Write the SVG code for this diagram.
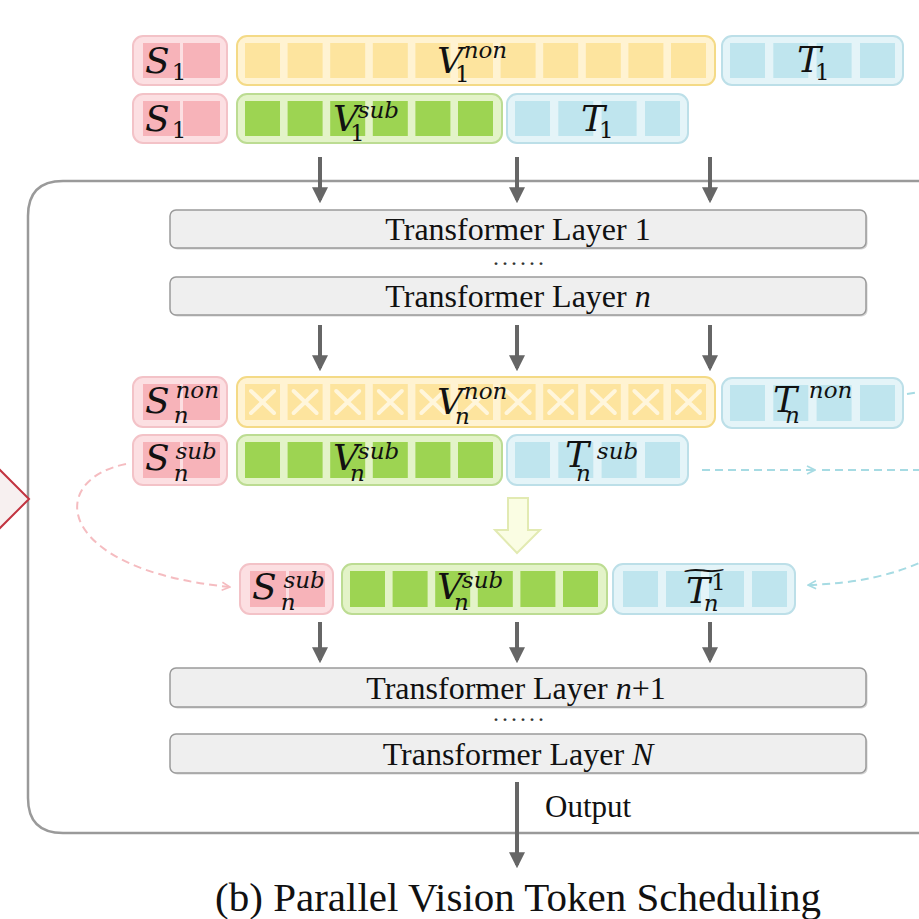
<svg xmlns="http://www.w3.org/2000/svg" width="919" height="919" viewBox="0 0 919 919">
<style>
.bg{fill:#fff}
.pink{fill:#fcdfe2;stroke:#f3c2c7;stroke-width:2}
.pc{fill:#f7b3b9}
.yel{fill:#fff3d2;stroke:#f4da86;stroke-width:2}
.yc{fill:#fde49e}
.grn{fill:#e3f3c8;stroke:#bcdc92;stroke-width:2}
.gc{fill:#9dd452}
.cyn{fill:#e4f4f8;stroke:#bcdfe8;stroke-width:2}
.cc{fill:#bfe5ee}
.x{stroke:#fff6dc;stroke-width:4;stroke-linecap:round}
.m{font-family:"DejaVu Serif","Liberation Serif",serif;font-style:italic;font-size:36px;fill:#111}
.ms{font-family:"DejaVu Serif","Liberation Serif",serif;font-style:italic;font-size:23px}
.md{font-family:"DejaVu Serif","Liberation Serif",serif;font-style:normal;font-size:23px}
.tl{fill:#efefef;stroke:#9a9a9a;stroke-width:1.5}
.tls{fill:#d4d4d4}
.tt{font-family:"Liberation Serif","Times New Roman",serif;font-size:32px;fill:#111;text-anchor:middle}
.dots{font-family:"Liberation Serif",serif;font-size:24px;fill:#333;letter-spacing:3px;text-anchor:middle}
.arr{stroke:#666;stroke-width:4;fill:none}
.dc{stroke:#a6dbe3;stroke-width:2;stroke-dasharray:8 5;fill:none}
.dp{stroke:#f5bcc0;stroke-width:2;stroke-dasharray:8 5;fill:none}
</style>
<defs>
<marker id="ah" viewBox="0 0 10 10" refX="8" refY="5" markerWidth="4" markerHeight="4" orient="auto" markerUnits="strokeWidth">
<path d="M0,0 L10,5 L0,10 Z" fill="#666"/>
</marker>
<marker id="ahc" viewBox="0 0 10 10" refX="9" refY="5" markerWidth="5" markerHeight="5" orient="auto" markerUnits="strokeWidth">
<path d="M1,1 L9,5 L1,9" fill="none" stroke="#a6dbe3" stroke-width="1.6"/>
</marker>
<marker id="ahp" viewBox="0 0 10 10" refX="9" refY="5" markerWidth="5" markerHeight="5" orient="auto" markerUnits="strokeWidth">
<path d="M1,1 L9,5 L1,9" fill="none" stroke="#f5bcc0" stroke-width="1.6"/>
</marker>
</defs>
<rect class="bg" x="0" y="0" width="919" height="919"/>

<!-- outer panel -->
<g id="panel">
<path d="M960,181 L63,181 Q28,181 28,216 L28,798 Q28,833 63,833 L960,833" fill="none" stroke="#9a9a9a" stroke-width="2.5"/>
</g>

<!-- left chevron fragment -->
<g id="chevron">
<polygon points="-3,467 29,499 -3,531 -35,499" fill="#f7f0f0" stroke="#c23440" stroke-width="2"/>
</g>

<!-- Row 1 -->
<g id="s1-row1">
<rect class="pink" x="133" y="36" width="94" height="49" rx="10"/>
<rect class="pc" x="143" y="43" width="37" height="35"/>
<rect class="pc" x="183" y="43" width="37" height="35"/>
<text class="m" x="145" y="73">S<tspan class="md" dx="2" dy="7">1</tspan></text>
</g>
<g id="v1non">
<rect class="yel" x="237" y="36" width="478" height="49" rx="10"/>
<g class="yc">
<rect x="245" y="43" width="35" height="35"/><rect x="287.6" y="43" width="35" height="35"/><rect x="330.2" y="43" width="35" height="35"/><rect x="372.8" y="43" width="35" height="35"/><rect x="415.4" y="43" width="35" height="35"/><rect x="458" y="43" width="35" height="35"/><rect x="500.6" y="43" width="35" height="35"/><rect x="543.2" y="43" width="35" height="35"/><rect x="585.8" y="43" width="35" height="35"/><rect x="628.4" y="43" width="35" height="35"/><rect x="671" y="43" width="35" height="35"/>
</g>
<text class="m" x="437" y="73">V<tspan class="md" dx="-8" dy="9">1</tspan><tspan class="ms" dx="-6" dy="-24">non</tspan></text>
</g>
<g id="t1-row1">
<rect class="cyn" x="722" y="36" width="181" height="49" rx="10"/>
<g class="cc"><rect x="730" y="43" width="35" height="35"/><rect x="773.3" y="43" width="35" height="35"/><rect x="816.6" y="43" width="35" height="35"/><rect x="860" y="43" width="35" height="35"/></g>
<text class="m" x="797" y="72">T<tspan class="md" dx="-6" dy="8">1</tspan></text>
</g>

<!-- Row 2 -->
<g id="s1-row2">
<rect class="pink" x="133" y="94" width="94" height="49" rx="10"/>
<rect class="pc" x="143" y="101" width="37" height="35"/>
<rect class="pc" x="183" y="101" width="37" height="35"/>
<text class="m" x="145" y="131">S<tspan class="md" dx="2" dy="7">1</tspan></text>
</g>
<g id="v1sub">
<rect class="grn" x="237" y="94" width="265" height="49" rx="10"/>
<g class="gc">
<rect x="245" y="101" width="35" height="35"/><rect x="287.6" y="101" width="35" height="35"/><rect x="330.2" y="101" width="35" height="35"/><rect x="372.8" y="101" width="35" height="35"/><rect x="415.4" y="101" width="35" height="35"/><rect x="458" y="101" width="35" height="35"/>
</g>
<text class="m" x="333" y="131">V<tspan class="md" dx="-9" dy="10">1</tspan><tspan class="ms" dx="-7" dy="-23">sub</tspan></text>
</g>
<g id="t1-row2">
<rect class="cyn" x="507" y="94" width="181" height="49" rx="10"/>
<g class="cc"><rect x="515" y="101" width="35" height="35"/><rect x="558.3" y="101" width="35" height="35"/><rect x="601.6" y="101" width="35" height="35"/><rect x="645" y="101" width="35" height="35"/></g>
<text class="m" x="581" y="131">T<tspan class="md" dx="-6" dy="7">1</tspan></text>
</g>

<!-- Transformer layers -->
<g id="layer1">
<rect class="tls" x="171.5" y="211.5" width="696" height="38" rx="6"/>
<rect class="tl" x="170" y="210" width="696" height="38" rx="6"/>
<text class="tt" x="518" y="240">Transformer Layer 1</text>
</g>
<text class="dots" x="520" y="265">......</text>
<g id="layern">
<rect class="tls" x="171.5" y="278.5" width="696" height="38" rx="6"/>
<rect class="tl" x="170" y="277" width="696" height="38" rx="6"/>
<text class="tt" x="518" y="307">Transformer Layer <tspan font-style="italic">n</tspan></text>
</g>

<!-- Row 3 -->
<g id="snnon">
<rect class="pink" x="133" y="377" width="94" height="50" rx="10"/>
<rect class="pc" x="143" y="384" width="37" height="36"/>
<rect class="pc" x="183" y="384" width="37" height="36"/>
<text class="m" x="145" y="413">S<tspan class="ms" dx="4" dy="10">n</tspan><tspan class="ms" dx="-13" dy="-25">non</tspan></text>
</g>
<g id="vnnon">
<rect class="yel" x="237" y="377" width="478" height="50" rx="10"/>
<g class="yc">
<rect x="245" y="384" width="35" height="36"/><rect x="287.6" y="384" width="35" height="36"/><rect x="330.2" y="384" width="35" height="36"/><rect x="372.8" y="384" width="35" height="36"/><rect x="415.4" y="384" width="35" height="36"/><rect x="458" y="384" width="35" height="36"/><rect x="500.6" y="384" width="35" height="36"/><rect x="543.2" y="384" width="35" height="36"/><rect x="585.8" y="384" width="35" height="36"/><rect x="628.4" y="384" width="35" height="36"/><rect x="671" y="384" width="35" height="36"/>
</g>
<g class="x">
<path d="M251,391 L274,413 M274,391 L251,413"/><path d="M293.6,391 L316.6,413 M316.6,391 L293.6,413"/><path d="M336.2,391 L359.2,413 M359.2,391 L336.2,413"/><path d="M378.8,391 L401.8,413 M401.8,391 L378.8,413"/><path d="M421.4,391 L444.4,413 M444.4,391 L421.4,413"/><path d="M464,391 L487,413 M487,391 L464,413"/><path d="M506.6,391 L529.6,413 M529.6,391 L506.6,413"/><path d="M549.2,391 L572.2,413 M572.2,391 L549.2,413"/><path d="M591.8,391 L614.8,413 M614.8,391 L591.8,413"/><path d="M634.4,391 L657.4,413 M657.4,391 L634.4,413"/><path d="M677,391 L700,413 M700,391 L677,413"/>
</g>
<text class="m" x="437" y="414">V<tspan class="ms" dx="-8" dy="10">n</tspan><tspan class="ms" dx="-6" dy="-25">non</tspan></text>
</g>
<g id="tnnon">
<rect class="cyn" x="722" y="378" width="181" height="50" rx="10"/>
<g class="cc"><rect x="730" y="385" width="35" height="36"/><rect x="773.3" y="385" width="35" height="36"/><rect x="816.6" y="385" width="35" height="36"/><rect x="860" y="385" width="35" height="36"/></g>
<text class="m" x="773" y="412">T<tspan class="ms" dx="-12" dy="11">n</tspan><tspan class="ms" dx="9" dy="-25">non</tspan></text>
</g>

<!-- Row 4 -->
<g id="snsub">
<rect class="pink" x="133" y="435" width="94" height="50" rx="10"/>
<rect class="pc" x="143" y="442" width="37" height="36"/>
<rect class="pc" x="183" y="442" width="37" height="36"/>
<text class="m" x="145" y="470">S<tspan class="ms" dx="4" dy="11">n</tspan><tspan class="ms" dx="-13" dy="-22">sub</tspan></text>
</g>
<g id="vnsub">
<rect class="grn" x="237" y="435" width="265" height="50" rx="10"/>
<g class="gc">
<rect x="245" y="442" width="35" height="36"/><rect x="287.6" y="442" width="35" height="36"/><rect x="330.2" y="442" width="35" height="36"/><rect x="372.8" y="442" width="35" height="36"/><rect x="415.4" y="442" width="35" height="36"/><rect x="458" y="442" width="35" height="36"/>
</g>
<text class="m" x="333" y="470">V<tspan class="ms" dx="-9" dy="11">n</tspan><tspan class="ms" dx="-7" dy="-22">sub</tspan></text>
</g>
<g id="tnsub">
<rect class="cyn" x="507" y="435" width="181" height="50" rx="10"/>
<g class="cc"><rect x="515" y="442" width="35" height="36"/><rect x="558.3" y="442" width="35" height="36"/><rect x="601.6" y="442" width="35" height="36"/><rect x="645" y="442" width="35" height="36"/></g>
<text class="m" x="565" y="467">T<tspan class="ms" dx="-13" dy="14">n</tspan><tspan class="ms" dx="6" dy="-22">sub</tspan></text>
</g>

<!-- yellow block arrow -->
<g id="merge-arrow">
<polygon points="508,498 528,498 528,530 540,530 517,553 495,530 508,530" fill="#fafde3" stroke="#e2eab2" stroke-width="2"/>
</g>

<!-- Row 5 -->
<g id="snsub2">
<rect class="pink" x="240" y="564" width="93" height="50" rx="10"/>
<rect class="pc" x="250" y="571" width="36" height="36"/>
<rect class="pc" x="289" y="571" width="36" height="36"/>
<text class="m" x="252" y="599">S<tspan class="ms" dx="4" dy="11">n</tspan><tspan class="ms" dx="-12" dy="-22">sub</tspan></text>
</g>
<g id="vnsub2">
<rect class="grn" x="342" y="564" width="265" height="50" rx="10"/>
<g class="gc">
<rect x="350" y="571" width="35" height="36"/><rect x="392.6" y="571" width="35" height="36"/><rect x="435.2" y="571" width="35" height="36"/><rect x="477.8" y="571" width="35" height="36"/><rect x="520.4" y="571" width="35" height="36"/><rect x="563" y="571" width="35" height="36"/>
</g>
<text class="m" x="437" y="599">V<tspan class="ms" dx="-9" dy="11">n</tspan><tspan class="ms" dx="-7" dy="-22">sub</tspan></text>
</g>
<g id="tn1tilde">
<rect class="cyn" x="613" y="564" width="182" height="50" rx="10"/>
<g class="cc"><rect x="623" y="571" width="35" height="36"/><rect x="666" y="571" width="35" height="36"/><rect x="709" y="571" width="35" height="36"/><rect x="752" y="571" width="35" height="36"/></g>
<text class="m" x="686" y="603">T<tspan class="md" dx="1" dy="-13">1</tspan><tspan class="ms" dx="-22" dy="21">n</tspan></text>
<text class="md" x="0" y="0" text-anchor="middle" fill="#111" transform="translate(704,577) scale(2.7,1)">~</text>
</g>

<g id="layern1">
<rect class="tls" x="171.5" y="669.5" width="696" height="39" rx="6"/>
<rect class="tl" x="170" y="668" width="696" height="39" rx="6"/>
<text class="tt" x="516" y="699">Transformer Layer <tspan font-style="italic">n</tspan>+1</text>
</g>
<text class="dots" x="520" y="721">......</text>
<g id="layerN">
<rect class="tls" x="171.5" y="735.5" width="696" height="39" rx="6"/>
<rect class="tl" x="170" y="734" width="696" height="39" rx="6"/>
<text class="tt" x="518" y="765">Transformer Layer <tspan font-style="italic">N</tspan></text>
</g>

<!-- connectors -->
<g id="connectors">
<path class="arr" d="M320,157 L320,200" marker-end="url(#ah)"/>
<path class="arr" d="M517,157 L517,200" marker-end="url(#ah)"/>
<path class="arr" d="M710,157 L710,200" marker-end="url(#ah)"/>
<path class="arr" d="M320,325 L320,368" marker-end="url(#ah)"/>
<path class="arr" d="M517,325 L517,368" marker-end="url(#ah)"/>
<path class="arr" d="M710,325 L710,368" marker-end="url(#ah)"/>
<path class="arr" d="M320,622 L320,660" marker-end="url(#ah)"/>
<path class="arr" d="M517,622 L517,660" marker-end="url(#ah)"/>
<path class="arr" d="M710,622 L710,660" marker-end="url(#ah)"/>
<path class="arr" d="M517,782 L517,865" marker-end="url(#ah)"/>
<path class="dc" d="M702,470 L815,470" marker-end="url(#ahc)"/>
<path class="dc" d="M822,470 L925,470"/>
<path class="dc" d="M907,394 L925,391"/>
<path class="dc" d="M930,558 Q880,583 808,585" marker-end="url(#ahc)"/>
<path class="dp" d="M126,464 C45,480 55,570 230,587" marker-end="url(#ahp)"/>
</g>

<text x="545" y="817" font-family="Liberation Serif,serif" font-size="31" fill="#111">Output</text>
<text x="518" y="911" font-family="Liberation Serif,serif" font-size="41" fill="#111" text-anchor="middle">(b) Parallel Vision Token Scheduling</text>
</svg>
